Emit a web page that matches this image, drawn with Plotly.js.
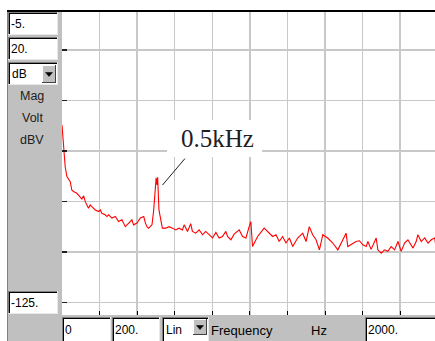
<!DOCTYPE html>
<html>
<head>
<meta charset="utf-8">
<script src="https://cdn.plot.ly/plotly-3.0.1.min.js"></script>
<style>
html,body{margin:0;padding:0;background:#fff;overflow:hidden;}
#chart{width:435px;height:341px;}
</style>
</head>
<body>
<div id="chart"></div>
<script>
// ---- data ----
const freqHz = [0,8,17,26,35,44,52,61,79,97,106,115,124,141,150,159,177,195,204,212,230,239,248,266,284,301,319,337,355,372,381,399,417,435,444,452,461,479,488,497,501,506,509,516,525,534,552,570,588,605,623,641,650,668,685,694,712,730,748,765,783,801,819,836,854,872,881,899,916,943,961,979,996,1005,1014,1041,1076,1103,1121,1139,1156,1174,1192,1210,1228,1254,1281,1299,1316,1334,1352,1370,1388,1414,1441,1468,1485,1512,1521,1539,1565,1583,1601,1619,1628,1645,1672,1681,1699,1716,1734,1752,1770,1788,1805,1823,1841,1868,1885,1894,1912,1930,1948,1965,1983,1992];
const magDbv = [-49.8,-57.0,-66.3,-70.2,-71.5,-72.2,-75.5,-76.1,-76.8,-78.4,-79.1,-77.8,-80.1,-82.7,-81.4,-82.1,-83.4,-84.0,-83.4,-84.7,-85.3,-86.0,-85.3,-86.6,-86.0,-88.0,-87.3,-90.0,-88.6,-87.3,-89.3,-88.6,-86.6,-86.0,-88.6,-90.0,-90.6,-89.3,-83.4,-74.8,-70.7,-73.5,-70.5,-83.4,-88.0,-90.6,-90.6,-90.0,-90.6,-91.3,-90.6,-91.3,-89.3,-91.9,-88.8,-91.9,-92.6,-91.3,-93.2,-91.9,-93.2,-94.5,-92.3,-94.5,-93.9,-91.9,-93.9,-95.2,-93.0,-91.3,-93.9,-94.5,-90.0,-88.0,-97.9,-93.9,-90.6,-92.6,-93.9,-93.2,-95.9,-93.9,-96.5,-94.5,-97.9,-94.5,-92.6,-95.9,-90.0,-93.2,-95.2,-99.2,-93.2,-94.5,-96.5,-99.2,-96.5,-92.6,-97.9,-97.2,-95.9,-95.6,-97.2,-97.9,-95.9,-99.0,-94.5,-99.2,-100.5,-99.2,-99.8,-97.9,-99.2,-95.9,-99.8,-96.5,-95.2,-98.5,-95.9,-93.2,-95.9,-94.5,-96.5,-95.2,-94.5,-98.5];
const yTop = -5, yBottom = -125, yStep = 20;
const xStart = 0, xStep = 200, xStop = 2000;
const peakLabel = "0.5kHz";
const fieldTexts = {top:"-5.", div:"20.", unit:"dB", bottom:"-125.", start:"0", span:"200.", scale:"Lin", stop:"2000."};
const panelLabels = ["Mag","Volt","dBV"];
const axisLabel = "Frequency", axisUnit = "Hz";

// ---- geometry ----
const W = 435, H = 341, L = 62, R = 0, T = 12, B = 26;
const PW = W - L - R, PH = H - T - B;
const pxPerHz = 0.1879;
const xMax = PW / pxPerHz;
const px = v => (v - L) / PW;
const py = v => (H - B - v) / PH;
const GRAY = '#c0c0c0';
const FONT = 'Liberation Sans, Arial, sans-serif';

const shapes = [];
const annotations = [];
function rect(x0, y0, x1, y1, fill) {
  shapes.push({type:'rect', xref:'paper', yref:'paper', x0:px(x0), x1:px(x1), y0:py(y1), y1:py(y0),
    fillcolor:fill, line:{width:0}, layer:'above'});
}
function hline(x0, x1, y, color, w) {
  shapes.push({type:'line', xref:'paper', yref:'paper', x0:px(x0), x1:px(x1), y0:py(y), y1:py(y),
    line:{color:color, width:w||1}, layer:'above'});
}
function vline(x, y0, y1, color, w) {
  shapes.push({type:'line', xref:'paper', yref:'paper', x0:px(x), x1:px(x), y0:py(y0), y1:py(y1),
    line:{color:color, width:w||1}, layer:'above'});
}
function sunken(x0, y0, x1, y1) {
  rect(x0, y0, x1, y1, '#ffffff');
  hline(x0, x1, y0 + 0.5, '#808080');
  vline(x0 + 0.5, y0, y1, '#808080');
  hline(x0 + 1, x1 - 1, y0 + 1.5, '#000000');
  vline(x0 + 1.5, y0 + 1, y1 - 1, '#000000');
  hline(x0, x1, y1 - 0.5, '#e8e8e8');
  vline(x1 - 0.5, y0, y1, '#e8e8e8');
}
function button(x0, y0, x1, y1) {
  rect(x0, y0, x1, y1, GRAY);
  hline(x0, x1, y0 + 0.5, '#ffffff');
  vline(x0 + 0.5, y0, y1, '#ffffff');
  hline(x0, x1, y1 - 0.5, '#404040');
  vline(x1 - 0.5, y0, y1, '#404040');
  const cx = (x0 + x1) / 2, cy = (y0 + y1) / 2;
  const p = `M ${px(cx-3.5)} ${py(cy-1.5)} L ${px(cx+3.5)} ${py(cy-1.5)} L ${px(cx)} ${py(cy+2.5)} Z`;
  shapes.push({type:'path', xref:'paper', yref:'paper', path:p, fillcolor:'#000', line:{color:'#000', width:0.5}, layer:'above'});
}
function label(text, x, y, anchor, size, color) {
  annotations.push({text:text, xref:'paper', yref:'paper', x:px(x), y:py(y), xanchor:anchor||'left', yanchor:'middle',
    showarrow:false, font:{family:FONT, size:size||12, color:color||'#000'}, borderpad:0});
}

// left panel
rect(7, 10, L, H + 2, GRAY);
vline(7.5, 10, H + 2, '#808080');
// bottom bar
rect(L - 1, H - B, W + 2, H + 2, GRAY);
// top frame line
hline(7, W + 2, 11, '#000000', 2);

// boxes left
sunken(8, 12, 58, 35);  label(fieldTexts.top, 10, 24);
sunken(8, 37, 58, 60);  label(fieldTexts.div, 10, 49);
sunken(8, 62, 58, 85);  label(fieldTexts.unit, 11, 74);
button(42, 65, 56, 83);
label(panelLabels[0], 32, 96, 'center', 12.5, '#202020');
label(panelLabels[1], 32, 118, 'center', 12.5, '#202020');
label(panelLabels[2], 32, 140, 'center', 12.5, '#202020');
sunken(8, 291, 58, 314); label(fieldTexts.bottom, 10, 303);

// bottom boxes
sunken(62, 317, 111, 343);  label(fieldTexts.start, 64, 330);
sunken(112, 317, 160, 343); label(fieldTexts.span, 114, 330);
sunken(162, 317, 209, 343); label(fieldTexts.scale, 165, 330);
button(193, 319, 207, 335);
label(axisLabel, 210, 330, 'left', 13);
label(axisUnit, 310, 330, 'left', 13);
sunken(365, 317, 437, 343); label(fieldTexts.stop, 367, 330);

// peak callout (white background box, leader line, serif label)
const hz = p => (p - L) / pxPerHz;
const db = p => yTop - (p - T) * (yTop - yBottom) / PH;
shapes.push({type:'rect', xref:'x', yref:'y', x0:hz(167), x1:hz(262), y0:db(157), y1:db(120),
  fillcolor:'#ffffff', line:{width:0}, layer:'between'});
shapes.push({type:'line', xref:'x', yref:'y', x0:hz(162.5), y0:db(185), x1:hz(185), y1:db(158.5),
  line:{color:'#202020', width:1}, layer:'above'});
annotations.push({text:peakLabel, xref:'x', yref:'y', x:hz(217.5), y:db(138), xanchor:'center', yanchor:'middle',
  showarrow:false, font:{family:'Liberation Serif, Times New Roman, serif', size:25, color:'#202020'}});

const trace = {x:freqHz, y:magDbv, type:'scatter', mode:'lines', line:{color:'#ff0000', width:1.1}, hoverinfo:'skip'};

const layout = {
  width:W, height:H,
  margin:{l:L, r:R, t:T, b:B, pad:0},
  paper_bgcolor:'#ffffff', plot_bgcolor:'#ffffff',
  showlegend:false,
  xaxis:{range:[xStart, xMax], tick0:xStart, dtick:xStep, showgrid:true, gridcolor:'#c8c8c8', gridwidth:1.5,
    zeroline:false, showline:false, ticks:'inside', ticklen:4, tickwidth:1, tickcolor:'#000',
    showticklabels:false, fixedrange:true},
  yaxis:{range:[yBottom, yTop], tick0:0, dtick:yStep, showgrid:true, gridcolor:'#c8c8c8', gridwidth:1.5,
    zeroline:false, showline:false, ticks:'inside', ticklen:5, tickwidth:1.5, tickcolor:'#202020',
    showticklabels:false, fixedrange:true},
  shapes:shapes, annotations:annotations
};
Plotly.newPlot('chart', [trace], layout, {staticPlot:true, displayModeBar:false});
</script>
</body>
</html>
